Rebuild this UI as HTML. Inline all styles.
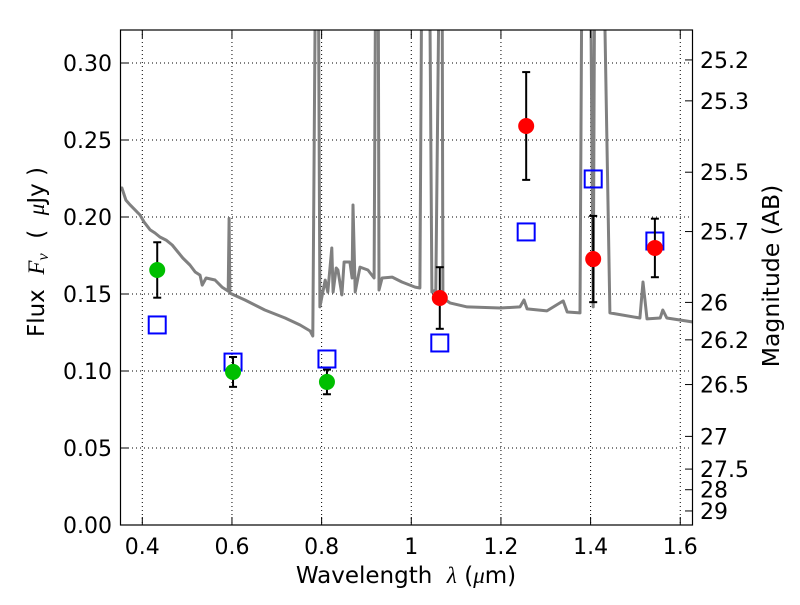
<!DOCTYPE html>
<html><head><meta charset="utf-8"><style>
html,body{margin:0;padding:0;background:#fff;}
svg text{font-family:"DejaVu Sans","Liberation Sans",sans-serif;white-space:pre;}
</style></head><body>
<svg id="chart" width="800" height="600" xmlns="http://www.w3.org/2000/svg">
<defs><clipPath id="clip"><rect x="120.5" y="30" width="572" height="495"/></clipPath></defs>
<rect x="0" y="0" width="800" height="600" fill="#fff"/>
<g id="grid"></g>
<g id="spec" clip-path="url(#clip)"></g>
<g id="marks"></g>
<rect x="120.5" y="30" width="572" height="495" fill="none" stroke="#000" stroke-width="1.2"/>
<g id="axes"></g>
<text x="406" y="583" font-size="23" text-anchor="middle">Wavelength  <tspan font-style="italic" font-family="Liberation Serif">λ</tspan> (<tspan font-style="italic" font-family="Liberation Serif">μ</tspan>m)</text>
<text transform="translate(44,252) rotate(-90)" font-size="23" text-anchor="middle">Flux  <tspan font-style="italic" font-family="Liberation Serif">F<tspan font-size="16" dy="4">ν</tspan></tspan><tspan dy="-4">  (  </tspan><tspan font-style="italic" font-family="Liberation Serif">μ</tspan>Jy )</text>
<text transform="translate(779,276) rotate(-90)" font-size="23.5" text-anchor="middle">Magnitude (AB)</text>
</svg>
<script>
const xTicks=[0.4,0.6,0.8,1.0,1.2,1.4,1.6];
const xTickLabels=["0.4","0.6","0.8","1","1.2","1.4","1.6"];
const yTicks=[0,0.05,0.1,0.15,0.2,0.25,0.3];
const yTickLabels=["0.00","0.05","0.10","0.15","0.20","0.25","0.30"];
const magTicks=[25.2,25.3,25.5,25.7,26,26.2,26.5,27,27.5,28,29];
const magLabels=["25.2","25.3","25.5","25.7","26","26.2","26.5","27","27.5","28","29"];
const specWl=[0.3503,0.3546,0.3635,0.3723,0.3841,0.3949,0.4038,0.4176,0.4284,0.4392,0.4530,0.4667,0.4795,0.4903,0.5061,0.5179,0.5287,0.5336,0.5424,0.5621,0.5778,0.5916,0.5936,0.5955,0.6290,0.6732,0.7185,0.7519,0.7745,0.7804,0.7873,0.7922,0.7961,0.8079,0.8138,0.8227,0.8256,0.8325,0.8364,0.8453,0.8502,0.8630,0.8679,0.8699,0.8748,0.8856,0.9033,0.9171,0.9210,0.9259,0.9279,0.9348,0.9574,0.9790,1.0085,1.0193,1.0242,1.0400,1.0459,1.0547,1.0636,1.0685,1.0705,1.0862,1.1245,1.1983,1.2425,1.2514,1.2583,1.3025,1.3389,1.3478,1.3763,1.3812,1.3989,1.4058,1.4097,1.4274,1.4431,1.5100,1.5168,1.5257,1.5552,1.5611,1.5699,1.6280];
const specFlux=[0.2175,0.2188,0.211,0.208,0.2045,0.2013,0.1968,0.1916,0.1896,0.187,0.185,0.1818,0.1773,0.1734,0.1688,0.1643,0.1623,0.1558,0.1604,0.1591,0.1545,0.1519,0.199,0.1506,0.1461,0.1396,0.1344,0.1299,0.126,0.1227,0.40,0.40,0.1416,0.159,0.1513,0.1799,0.1513,0.1669,0.1656,0.1494,0.1708,0.1708,0.1604,0.2078,0.1513,0.1675,0.1656,0.1604,0.40,0.40,0.1526,0.1604,0.161,0.1578,0.1545,0.1539,0.40,0.40,0.1513,0.1526,0.40,0.40,0.1474,0.1442,0.1416,0.1409,0.1416,0.1461,0.1403,0.139,0.1455,0.1383,0.1377,0.40,0.40,0.1416,0.40,0.40,0.1377,0.1344,0.1578,0.1338,0.1344,0.1396,0.1344,0.1318];
const greenWl=[0.4333,0.6024,0.8119];
const greenFlux=[0.1656,0.0994,0.0929];
const greenErr=[0.018,0.0097,0.008];
const redWl=[1.0636,1.2563,1.4058,1.5434];
const redFlux=[0.1474,0.2591,0.1727,0.1799];
const redErr=[0.020,0.035,0.028,0.019];
const modelWl=[0.4333,0.6024,0.8119,1.0636,1.2563,1.4058,1.5434];
const modelFlux=[0.1299,0.1058,0.1078,0.1182,0.1903,0.2247,0.1844];

const X=v=>142.3+(v-0.4)*448.3;
const Y=v=>525-v*1540;
const NS="http://www.w3.org/2000/svg";
function mk(tag,attrs,parent,text){const e=document.createElementNS(NS,tag);for(const k in attrs)e.setAttribute(k,attrs[k]);if(text!==undefined)e.textContent=text;document.getElementById(parent).appendChild(e);return e;}

xTicks.forEach((t,i)=>{const x=X(t);
 let g=mk('line',{x1:x,x2:x,y1:30,y2:525,stroke:'#000','stroke-width':1,'stroke-dasharray':'1,3'},'grid');
 
 mk('line',{x1:x,x2:x,y1:525,y2:517,stroke:'#000'},'axes');
 mk('line',{x1:x,x2:x,y1:30,y2:38,stroke:'#000'},'axes');
 let l=mk('text',{x:x,y:554,'font-size':22,'text-anchor':'middle'},'axes',xTickLabels[i]);
 
});
yTicks.forEach((t,i)=>{const y=Y(t);
 let g=mk('line',{x1:120,x2:693,y1:y,y2:y,stroke:'#000','stroke-width':1,'stroke-dasharray':'1,3'},'grid');
 
 mk('line',{x1:120,x2:128,y1:y,y2:y,stroke:'#000'},'axes');
 let l=mk('text',{x:112,y:y+8,'font-size':22,'text-anchor':'end'},'axes',yTickLabels[i]);
 
});
magTicks.forEach((m,i)=>{const y=Y(Math.pow(10,(23.9-m)/2.5));
 mk('line',{x1:685,x2:693,y1:y,y2:y,stroke:'#000'},'axes');
 let l=mk('text',{x:700,y:y+8,'font-size':22},'axes',magLabels[i]);
 
});
let d=specWl.map((w,i)=>(i?'L':'M')+X(w).toFixed(1)+','+Y(specFlux[i]).toFixed(1)).join(' ');
let sp=mk('path',{d:d,fill:'none',stroke:'#808080','stroke-width':3,'stroke-linejoin':'round'},'spec');


modelWl.forEach((w,i)=>{
 let r=mk('rect',{x:X(w)-8.5,y:Y(modelFlux[i])-8.5,width:17,height:17,fill:'none',stroke:'#0000ff','stroke-width':2},'marks');
 
});
function pts(wl,fl,er,color,name){wl.forEach((w,i)=>{const x=X(w);
 const y1=Y(fl[i]+er[i]),y2=Y(fl[i]-er[i]);
 mk('line',{x1:x,x2:x,y1:y1,y2:y2,stroke:'#000','stroke-width':2},'marks');
 mk('line',{x1:x-4,x2:x+4,y1:y1,y2:y1,stroke:'#000','stroke-width':2},'marks');
 mk('line',{x1:x-4,x2:x+4,y1:y2,y2:y2,stroke:'#000','stroke-width':2},'marks');
 let c=mk('circle',{cx:x,cy:Y(fl[i]),r:8,fill:color},'marks');
 
});}
pts(greenWl,greenFlux,greenErr,'#00bf00','hst-flux-point');
pts(redWl,redFlux,redErr,'#ff0000','ir-flux-point');
</script>
</body></html>
